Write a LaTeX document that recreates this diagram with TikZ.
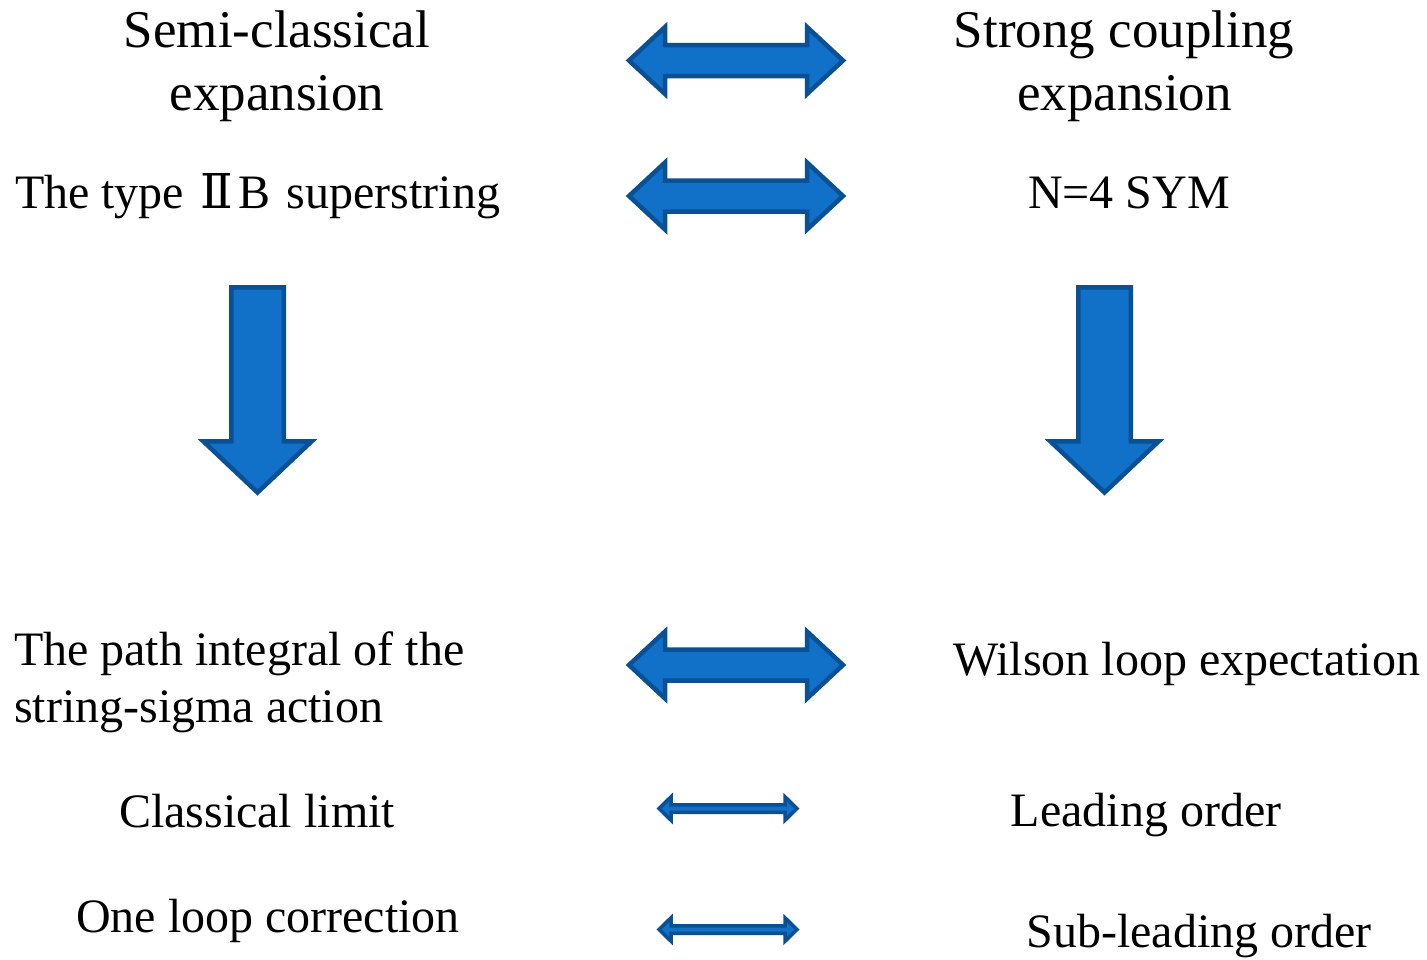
\documentclass[tikz,border=0pt]{standalone}
\usepackage{fontspec}
\setmainfont{Liberation Serif}
\newfontfamily\romanfont{DejaVu Serif}
\definecolor{arrfill}{RGB}{17,112,200}
\definecolor{arrline}{RGB}{10,80,148}
% double horizontal block arrow: style, cx, cy, half length, head length, head half-height, shaft half-height
\newcommand{\DblArrow}[7]{\draw[#1] (#2-#4,#3) -- (#2-#4+#5,#3-#6) -- (#2-#4+#5,#3-#7) -- (#2+#4-#5,#3-#7) -- (#2+#4-#5,#3-#6) -- (#2+#4,#3) -- (#2+#4-#5,#3+#6) -- (#2+#4-#5,#3+#7) -- (#2-#4+#5,#3+#7) -- (#2-#4+#5,#3+#6) -- cycle;}
% downward block arrow: style, cx, top, head base, tip, head half-width, shaft half-width
\newcommand{\DownArrow}[7]{\draw[#1] (#2-#7,#3) -- (#2+#7,#3) -- (#2+#7,#4) -- (#2+#6,#4) -- (#2,#5) -- (#2-#6,#4) -- (#2-#7,#4) -- cycle;}
\begin{document}
\begin{tikzpicture}[x=1pt,y=-1pt,
  txt/.style={font=\fontsize{48}{57}\selectfont, inner sep=0pt, outer sep=0pt, anchor=base},
  bigtxt/.style={txt, font=\fontsize{53}{64}\selectfont},
  bigarrow/.style={fill=arrfill, draw=arrline, line width=4.5pt, line join=miter},
  smallarrow/.style={fill=arrfill, draw=arrline, line width=3.5pt, line join=miter}]
\useasboundingbox (0,0) rectangle (1427,959);

% texts
\node[bigtxt] (semiA) at (277,47) {Semi-classical};
\node[bigtxt] (semiB) at (277,110) {expansion};
\node[bigtxt] (strongA) at (1124,47) {Strong coupling};
\node[bigtxt] (strongB) at (1124.5,110) {expansion};
\node[txt, anchor=base west] (iib) at (15,208) {The type\hspace{16pt}{\romanfont Ⅱ}\hspace{6pt}B\hspace{16pt}superstring};
\node[txt] (sym) at (1129,208) {N=4 SYM};
\node[txt, anchor=base west] (pathA) at (14,665) {The path integral of the};
\node[txt, anchor=base west] (pathB) at (14,722) {string-sigma action};
\node[txt, anchor=base west] (wilson) at (953,675) {Wilson loop expectation};
\node[txt] (classical) at (257,827) {Classical limit};
\node[txt] (lead) at (1146,826) {Leading order};
\node[txt] (oneloop) at (268,932) {One loop correction};
\node[txt] (sublead) at (1199,947) {Sub-leading order};

% arrows
\DblArrow{bigarrow}{736}{60.5}{107}{36}{33.5}{15.5}
\DblArrow{bigarrow}{736}{196}{107}{36}{33.5}{15.5}
\DblArrow{bigarrow}{736}{665}{107}{36}{33.5}{15.5}
\DblArrow{smallarrow}{728}{808.5}{69}{12}{11.75}{3.75}
\DblArrow{smallarrow}{728}{929.5}{69}{12}{11.75}{3.75}
\DownArrow{bigarrow}{257.5}{287.25}{441.25}{492.5}{54.25}{26.25}
\DownArrow{bigarrow}{1104.5}{287.25}{441.25}{492.5}{54.25}{26.25}
\end{tikzpicture}
\end{document}
